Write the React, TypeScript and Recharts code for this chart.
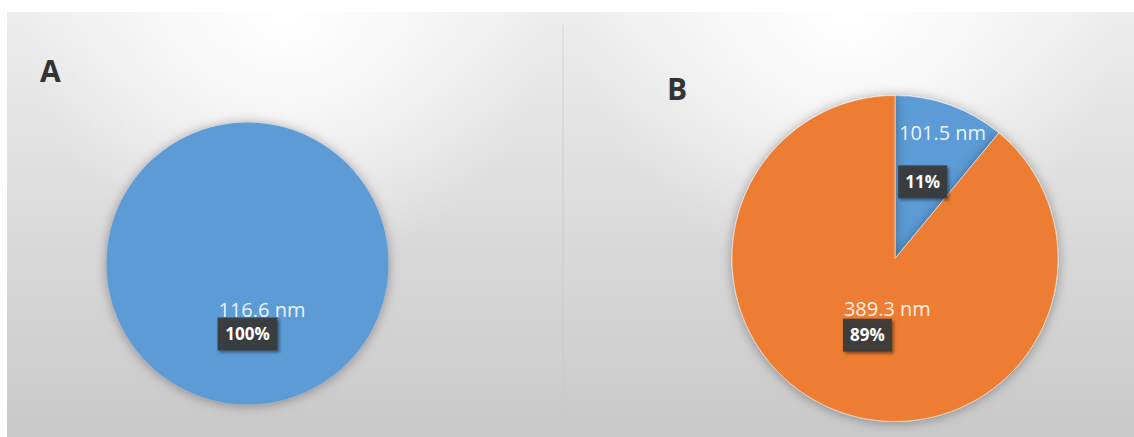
import React from 'react'
import { PieChart, Pie, Cell } from 'recharts'

// Panel A: one size class
const panelANames = ['116.6 nm']
const panelAValues = [100]

// Panel B: two size classes, share in percent
const panelBNames = ['101.5 nm', '389.3 nm']
const panelBValues = [11, 89]

const sliceColors = ['#5B9BD5', '#ED7D31']
const panelTitles = ['A', 'B']

const FONT = '"Open Sans", "Liberation Sans", sans-serif'
const RAD = Math.PI / 180

function polar(cx: number, cy: number, angle: number, r: number) {
  return [cx + r * Math.cos(-angle * RAD), cy + r * Math.sin(-angle * RAD)]
}

// Excel-style data label: size text above a dark callout box with the percentage
function renderSliceLabel(props: any) {
  const { cx, cy, midAngle, outerRadius, percent, name } = props
  const big = percent > 0.5
  const pct = `${Math.round(percent * 100)}%`
  const boxW = 16 + 11 * pct.length
  const boxH = 33
  const [bx, by] = polar(cx, cy, midAngle, outerRadius * 0.5)
  const left = bx - boxW / 2
  const top = by - boxH / 2
  const [, vy] = polar(cx, cy, midAngle, outerRadius * (big ? 0.33 : 0.82))
  return (
    <g>
      <text x={left + 1} y={vy + 7} fill="#ffffff" fillOpacity={0.9} fontSize={20} fontFamily={FONT}>
        {name}
      </text>
      <rect x={left} y={top} width={boxW} height={boxH} fill="#3b3b3b" fillOpacity={0.93} filter="url(#boxShadow)" />
      <text x={bx} y={by + 6} textAnchor="middle" fill="#ffffff" fontSize={17} fontWeight={700} fontFamily={FONT}>
        {pct}
      </text>
    </g>
  )
}

const panelBg =
  'radial-gradient(ellipse 48% 60% at 50% 0%, rgba(255,255,255,1) 0%, rgba(255,255,255,0.6) 45%, rgba(255,255,255,0) 100%), linear-gradient(#ededed, #c9c9c9)'

export default function App() {
  const dataA = panelANames.map((name, i) => ({ name, value: panelAValues[i] }))
  const dataB = panelBNames.map((name, i) => ({ name, value: panelBValues[i] }))
  return (
    <div style={{ position: 'relative', width: 1134, height: 437, background: '#ffffff', overflow: 'hidden' }}>
      <style>{'body{margin:0}'}</style>
      <div style={{ position: 'absolute', left: 7, top: 12, width: 556, height: 425, background: panelBg }} />
      <div style={{ position: 'absolute', left: 563, top: 12, width: 571, height: 425, background: panelBg }} />
      <div style={{ position: 'absolute', left: 562, top: 25, width: 2, height: 412, background: '#c8c8c8', opacity: 0.35 }} />
      <svg width={1134} height={437} style={{ position: 'absolute', left: 0, top: 0 }}>
        <defs>
          <filter id="pieShadow" x="-20%" y="-20%" width="140%" height="140%">
            <feDropShadow dx="0" dy="1" stdDeviation="6" floodColor="#000000" floodOpacity="0.35" />
          </filter>
          <filter id="boxShadow" x="-20%" y="-20%" width="150%" height="150%">
            <feDropShadow dx="2" dy="2" stdDeviation="1.5" floodColor="#000000" floodOpacity="0.45" />
          </filter>
        </defs>
        <text x={40} y={82} fontSize={30} fontWeight={700} fill="#333333" fontFamily={FONT}>
          {panelTitles[0]}
        </text>
        <text x={667} y={100} fontSize={30} fontWeight={700} fill="#333333" fontFamily={FONT}>
          {panelTitles[1]}
        </text>
      </svg>
      <div style={{ position: 'absolute', left: 7, top: 12 }}>
        <PieChart width={556} height={425} margin={{ top: 0, right: 0, bottom: 0, left: 0 }}>
          <Pie
            data={dataA}
            dataKey="value"
            nameKey="name"
            cx={240.5}
            cy={251.5}
            outerRadius={141}
            startAngle={90}
            endAngle={-270}
            stroke="none"
            label={renderSliceLabel}
            labelLine={false}
            isAnimationActive={false}
          >
            {dataA.map((d, i) => (
              <Cell key={d.name} fill={sliceColors[i]} stroke="none" filter="url(#pieShadow)" />
            ))}
          </Pie>
        </PieChart>
      </div>
      <div style={{ position: 'absolute', left: 563, top: 12 }}>
        <PieChart width={571} height={425} margin={{ top: 0, right: 0, bottom: 0, left: 0 }}>
          <Pie
            data={dataB}
            dataKey="value"
            nameKey="name"
            cx={332}
            cy={246.5}
            outerRadius={163}
            startAngle={90}
            endAngle={-270}
            stroke="#ffffff"
            strokeOpacity={0.5}
            strokeWidth={1}
            label={renderSliceLabel}
            labelLine={false}
            isAnimationActive={false}
          >
            {dataB.map((d, i) => (
              <Cell key={d.name} fill={sliceColors[i]} filter="url(#pieShadow)" />
            ))}
          </Pie>
        </PieChart>
      </div>
    </div>
  )
}
